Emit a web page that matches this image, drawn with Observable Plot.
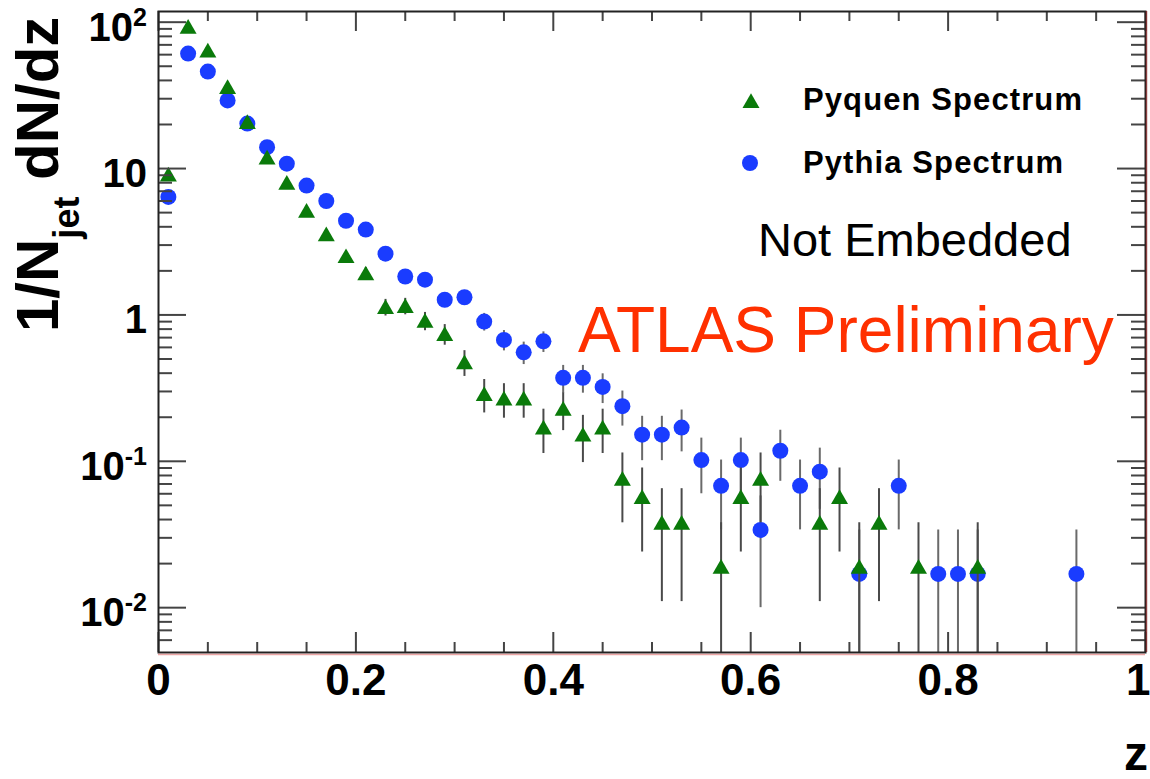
<!DOCTYPE html>
<html><head><meta charset="utf-8">
<script src="https://cdn.jsdelivr.net/npm/d3@7"></script>
<script src="https://cdn.jsdelivr.net/npm/@observablehq/plot@0.6"></script>
<style>
html,body{margin:0;padding:0;background:#fff;}
#chart{width:1150px;height:779px;overflow:hidden;}
</style></head><body><div id="chart"></div>
<script>
// ---- data ----
const pyquenZ = [0.01,0.03,0.05,0.07,0.09,0.11,0.13,0.15,0.17,0.19,0.21,0.23,0.25,0.27,0.29,0.31,0.33,0.35,0.37,0.39,0.41,0.43,0.45,0.47,0.49,0.51,0.53,0.57,0.59,0.61,0.67,0.69,0.71,0.73,0.77,0.83];
const pyquenV = [9.1,93,64,36,20.8,11.9,8.0,5.15,3.55,2.52,1.92,1.13,1.15,0.91,0.74,0.475,0.288,0.268,0.268,0.17,0.228,0.152,0.17,0.076,0.057,0.038,0.038,0.019,0.057,0.076,0.038,0.057,0.019,0.038,0.019,0.019];
const pyquenErr = [0.42,1.33,1.1,0.83,0.63,0.48,0.39,0.31,0.26,0.22,0.19,0.147,0.148,0.13,0.119,0.095,0.074,0.071,0.071,0.057,0.066,0.054,0.057,0.038,0.033,0.027,0.027,0.019,0.033,0.038,0.027,0.033,0.019,0.027,0.019,0.019];

const pythiaZ = [0.01,0.03,0.05,0.07,0.09,0.11,0.13,0.15,0.17,0.19,0.21,0.23,0.25,0.27,0.29,0.31,0.33,0.35,0.37,0.39,0.41,0.43,0.45,0.47,0.49,0.51,0.53,0.55,0.57,0.59,0.61,0.63,0.65,0.67,0.71,0.75,0.79,0.81,0.83,0.93];
const pythiaV = [6.4,61,46,29.2,20.3,14.0,10.8,7.65,6.0,4.4,3.83,2.62,1.83,1.74,1.27,1.32,0.90,0.675,0.555,0.66,0.372,0.372,0.322,0.238,0.152,0.152,0.17,0.102,0.068,0.102,0.034,0.118,0.068,0.085,0.017,0.068,0.017,0.017,0.017,0.017];
const pythiaErr = [0.33,1.02,0.88,0.7,0.59,0.49,0.43,0.36,0.32,0.27,0.255,0.21,0.176,0.172,0.147,0.15,0.124,0.107,0.097,0.106,0.08,0.08,0.074,0.064,0.051,0.051,0.054,0.042,0.034,0.042,0.024,0.045,0.034,0.038,0.017,0.034,0.017,0.017,0.017,0.017];

const xTickValues = [0, 0.2, 0.4, 0.6, 0.8, 1];
const xMinorTicks = [0.05,0.1,0.15,0.25,0.3,0.35,0.45,0.5,0.55,0.65,0.7,0.75,0.85,0.9,0.95];
const yTickValues = [0.01, 0.1, 1, 10, 100];
const yTickBase = ["10", "10", "1", "10", "10"];
const yTickExp = ["-2", "-1", "", "", "2"];
const yMinorTicks = [0.006,0.007,0.008,0.009,0.02,0.03,0.04,0.05,0.06,0.07,0.08,0.09,0.2,0.3,0.4,0.5,0.6,0.7,0.8,0.9,2,3,4,5,6,7,8,9,20,30,40,50,60,70,80,90];
const seriesNames = ["Pyquen Spectrum", "Pythia Spectrum"];
const seriesColors = ["#0a7a0a", "#1a3cff"];

// ---- build ----
const FONT = "'Liberation Sans', Arial, Helvetica, sans-serif";
const W = 1150, H = 779, ML = 158, MR = 5, MT = 11, MB = 127;
const innerW = W - ML - MR, innerH = H - MT - MB;
const yMin = 0.00494, yMax = 118.3;

const pyquen = pyquenZ.map((z, i) => ({z, v: pyquenV[i], e: pyquenErr[i]}));
const pythia = pythiaZ.map((z, i) => ({z, v: pythiaV[i], e: pythiaErr[i]}));

const errLo = d => Math.max(d.v - d.e, 1e-4);
const errHi = d => d.v + d.e;
const tickStroke = "#444";

const plot = Plot.plot({
  width: W, height: H,
  marginLeft: ML, marginRight: MR, marginTop: MT, marginBottom: MB,
  style: {fontFamily: FONT, background: "white", overflow: "hidden"},
  x: {domain: [0, 1], axis: null},
  y: {type: "log", domain: [yMin, yMax], axis: null},
  marks: [
    Plot.ruleX(pythia, {x: "z", y1: errLo, y2: errHi, stroke: "#6a6a6a", strokeWidth: 2, clip: true}),
    Plot.dot(pythia, {x: "z", y: "v", r: 8, fill: seriesColors[1], symbol: "circle"}),
    Plot.ruleX(pyquen, {x: "z", y1: errLo, y2: errHi, stroke: "#4a4a4a", strokeWidth: 2, clip: true}),
    Plot.dot(pyquen, {x: "z", y: "v", r: 6.3, dy: 2, fill: seriesColors[0], symbol: "triangle"}),
    // inward ticks, bottom and top
    Plot.tickX(xTickValues, {x: d => d, insetTop: innerH - 20, stroke: tickStroke, strokeWidth: 2}),
    Plot.tickX(xMinorTicks, {x: d => d, insetTop: innerH - 10, stroke: tickStroke, strokeWidth: 2}),
    Plot.tickX(xTickValues, {x: d => d, insetBottom: innerH - 20, stroke: tickStroke, strokeWidth: 2}),
    Plot.tickX(xMinorTicks, {x: d => d, insetBottom: innerH - 10, stroke: tickStroke, strokeWidth: 2}),
    // inward ticks, left and right
    Plot.tickY(yTickValues, {y: d => d, insetRight: innerW - 28, stroke: tickStroke, strokeWidth: 2}),
    Plot.tickY(yMinorTicks, {y: d => d, insetRight: innerW - 14, stroke: tickStroke, strokeWidth: 2}),
    Plot.tickY(yTickValues, {y: d => d, insetLeft: innerW - 28, stroke: tickStroke, strokeWidth: 2}),
    Plot.tickY(yMinorTicks, {y: d => d, insetLeft: innerW - 14, stroke: tickStroke, strokeWidth: 2}),
    Plot.frame({stroke: "#222", strokeWidth: 2}),
    Plot.ruleY([yMin], {stroke: "#e06a6a", strokeOpacity: 0.6, strokeWidth: 1.5, dy: 2}),
    Plot.ruleX([1], {stroke: "#8a2020", strokeOpacity: 0.7, strokeWidth: 1.5, dx: 1}),
    Plot.axisX(xTickValues.slice(0, -1), {tickSize: 0, tickPadding: 11, tickFormat: d => String(d),
      fontSize: 44, fontWeight: "bold", fill: "#000", label: null}),
    // last x tick label, kept inside the page edge
    Plot.text(xTickValues.slice(-1), {x: d => d, frameAnchor: "bottom", lineAnchor: "top", dy: 11, dx: 5,
      textAnchor: "end", text: d => String(d), fontSize: 44, fontWeight: "bold", fill: "#000"})
  ]
});

const svg = d3.select(plot);
const ys = plot.scale("y");

// y tick labels with superscripts
yTickValues.forEach((v, i) => {
  const t = svg.append("text")
    .attr("x", 147).attr("y", ys.apply(v) + 19)
    .attr("text-anchor", "end")
    .attr("font-family", FONT).attr("font-weight", "bold").attr("font-size", 40)
    .attr("fill", "#000");
  t.append("tspan").text(yTickBase[i]);
  if (yTickExp[i]) t.append("tspan").attr("dy", -15).attr("font-size", 25).text(yTickExp[i]);
});

// y-axis title
const yt = svg.append("text")
  .attr("transform", "translate(58,332) rotate(-90)")
  .attr("text-anchor", "start")
  .attr("font-family", FONT).attr("font-weight", "bold").attr("font-size", 60).attr("fill", "#000");
yt.append("tspan").text("1/N");
yt.append("tspan").attr("dy", 21).attr("font-size", 36).text("jet");
yt.append("tspan").attr("dy", -21).text(" dN/dz");

// x-axis title
svg.append("text").attr("x", 1148).attr("y", 770).attr("text-anchor", "end")
  .attr("font-family", FONT).attr("font-weight", "bold").attr("font-size", 48).attr("fill", "#000").text("z");

// legend
const triSize = Math.PI * 6.3 * 6.3, cirSize = Math.PI * 8 * 8;
svg.append("path").attr("d", d3.symbol(d3.symbolTriangle, triSize)()).attr("transform", "translate(751,103)").attr("fill", seriesColors[0]);
svg.append("path").attr("d", d3.symbol(d3.symbolCircle, cirSize)()).attr("transform", "translate(750,163)").attr("fill", seriesColors[1]);
[[seriesNames[0], 110], [seriesNames[1], 173]].forEach(([s, y]) => {
  svg.append("text").attr("x", 803).attr("y", y).attr("text-anchor", "start")
    .attr("font-family", FONT).attr("font-weight", "bold").attr("font-size", 31)
    .attr("letter-spacing", "1.1px").attr("fill", "#000").text(s);
});

// annotations
svg.append("text").attr("x", 758).attr("y", 256).attr("text-anchor", "start")
  .attr("font-family", FONT).attr("font-size", 47).attr("fill", "#000").text("Not Embedded");
svg.append("text").attr("x", 578).attr("y", 352).attr("text-anchor", "start")
  .attr("font-family", FONT).attr("font-size", 64).attr("fill", "#ff3000").text("ATLAS Preliminary");

document.getElementById("chart").append(plot);
</script>
</body></html>
